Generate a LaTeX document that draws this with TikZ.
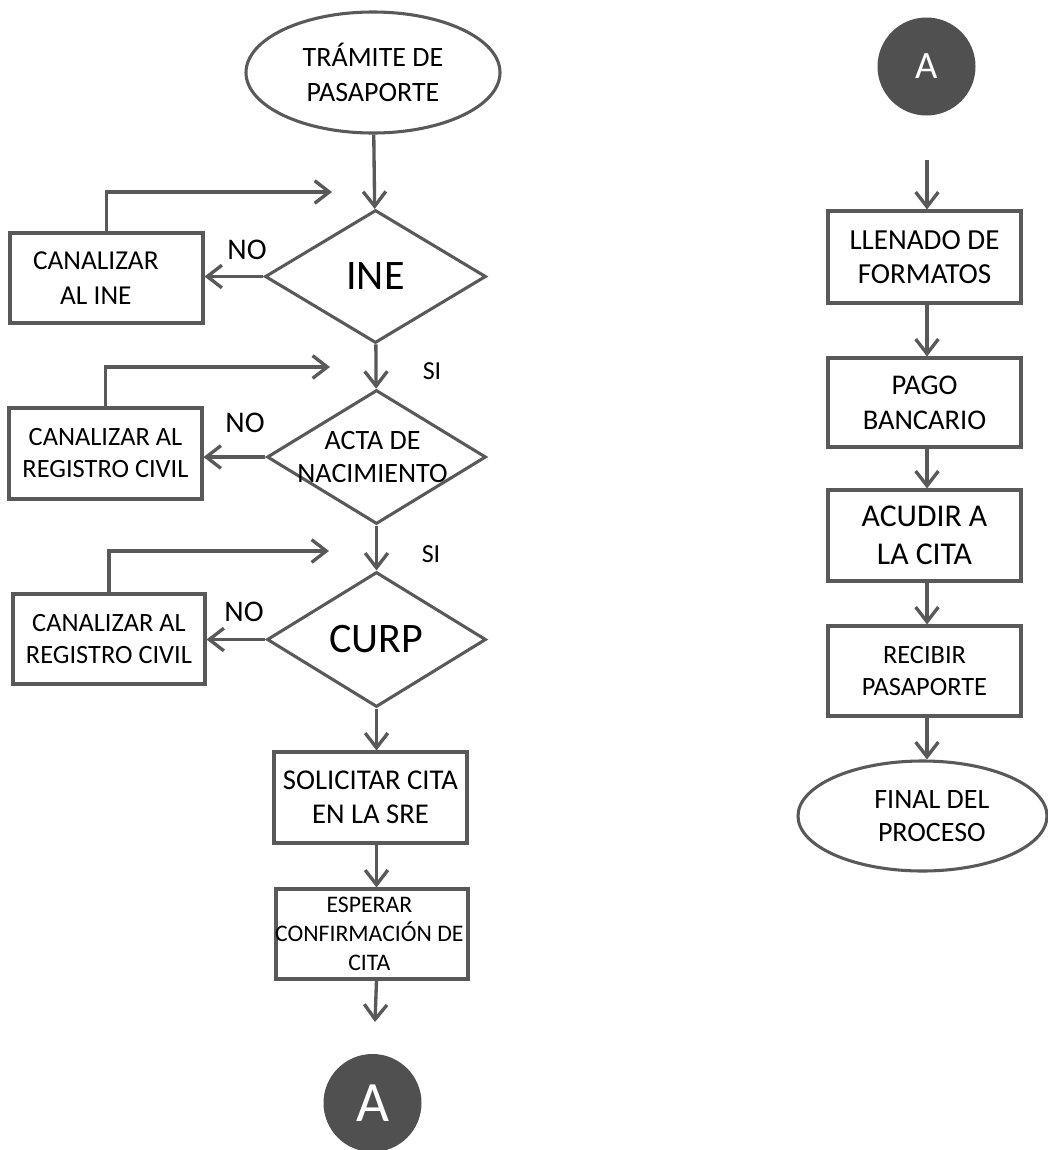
\documentclass[tikz,border=0pt]{standalone}
\usepackage{fontspec}
\setmainfont{Carlito}
\usetikzlibrary{shapes.geometric,arrows.meta}
\definecolor{ln}{HTML}{595959}
\definecolor{cfill}{HTML}{505050}
\tikzset{
  flow/.style={draw=ln,line width=2.5pt,-{Straight Barb[length=11pt,width=17pt,line width=2.5pt]}},
  box/.style={draw=ln,line width=2.3pt,rectangle,inner sep=0pt,align=center,fill=white},
  dia/.style={draw=ln,line width=2.3pt,diamond,inner sep=0pt,fill=white},
  term/.style={draw=ln,line width=2.3pt,ellipse,inner sep=0pt,align=center,fill=white},
  conn/.style={circle,fill=cfill,inner sep=0pt,text=white,minimum size=73.5pt},
  lbl/.style={inner sep=0pt,align=center}
}
\begin{document}
\begin{tikzpicture}[x=0.75pt,y=-0.75pt]
\useasboundingbox[fill=white] (0,0) rectangle (1047,1150);

% left column
\node[term,minimum width=190.5pt,minimum height=90.75pt,font=\fontsize{21}{26}\selectfont] (start) at (373,72.5) {TRÁMITE DE\\PASAPORTE};

\node[dia,minimum width=165.75pt,minimum height=99.75pt,label={[lbl,font=\fontsize{31.5}{36}\selectfont]center:INE}] (d1) at (375.5,276.5) {};
\node[box,minimum width=144.75pt,minimum height=67.5pt,label={[lbl,xshift=-8pt,font=\fontsize{20.5}{26}\selectfont]center:CANALIZAR\\AL INE}] (b1) at (106.5,278) {};

\node[dia,minimum width=164.25pt,minimum height=100.5pt,label={[lbl,xshift=-3pt,font=\fontsize{21}{24.5}\selectfont]center:ACTA DE\\NACIMIENTO}] (d2) at (376.5,457) {};
\node[box,minimum width=144.75pt,minimum height=68.25pt,font=\fontsize{19.8}{24}\selectfont] (b2) at (105.5,453.5) {CANALIZAR AL\\REGISTRO CIVIL};

\node[dia,minimum width=164.25pt,minimum height=101.25pt,label={[lbl,font=\fontsize{31.5}{36}\selectfont]center:CURP}] (d3) at (376.5,639.5) {};
\node[box,minimum width=144pt,minimum height=67.5pt,font=\fontsize{19.8}{24}\selectfont] (b3) at (109,639) {CANALIZAR AL\\REGISTRO CIVIL};

\node[box,minimum width=144.75pt,minimum height=68.25pt,font=\fontsize{21.5}{25.5}\selectfont] (sol) at (370.5,797.5) {SOLICITAR CITA\\EN LA SRE};
\node[box,minimum width=144pt,minimum height=67.5pt,label={[lbl,xshift=-2pt,font=\fontsize{17.8}{22}\selectfont]center:ESPERAR\\CONFIRMACIÓN DE\\CITA}] (esp) at (372,934) {};

\node[conn,font=\fontsize{42.75}{48}\selectfont] (a1) at (372.5,1103) {A};

% labels
\node[lbl,font=\fontsize{22.5}{26}\selectfont] (no1) at (247,250) {NO};
\node[lbl,font=\fontsize{22.5}{26}\selectfont] (no2) at (245,423) {NO};
\node[lbl,font=\fontsize{22.5}{26}\selectfont] (no3) at (244,612) {NO};
\node[lbl,font=\fontsize{19.5}{24}\selectfont] (si1) at (432,371) {SI};
\node[lbl,font=\fontsize{19.5}{24}\selectfont] (si2) at (431,554) {SI};

% free ends
\coordinate (f1) at (332,192);
\coordinate (f2) at (330,367);
\coordinate (f3) at (329,551);
\coordinate (e1) at (375,1022);

% connectors left
\draw[flow] (start) -- (d1);
\draw[flow] (d1) -- (d2);
\draw[flow] (d2) -- (d3);
\draw[flow] (d3.south) -- (d3.south |- sol.north);
\draw[flow] (sol.south -| d3.south) -- (esp.north -| d3.south);
\draw[flow] (esp.south -| d3.south) -- (e1);
\draw[flow] (d1.west) -- (d1.west -| b1.east);
\draw[flow] (d2.west) -- (d2.west -| b2.east);
\draw[flow] (d3.west) -- (d3.west -| b3.east);
\draw[flow] (b1.north) |- (f1);
\draw[flow] (b2.north) |- (f2);
\draw[flow] (b3.north) |- (f3);

% right column
\node[conn,font=\fontsize{29}{34}\selectfont] (a2) at (926.5,66.5) {A};
\coordinate (r1) at (927,160);
\node[box,minimum width=144.75pt,minimum height=69pt,font=\fontsize{21.8}{26}\selectfont] (llen) at (924.5,257) {LLENADO DE\\FORMATOS};
\node[box,minimum width=144.75pt,minimum height=66.75pt,font=\fontsize{21.4}{26}\selectfont] (pago) at (924.5,402.5) {PAGO\\BANCARIO};
\node[box,minimum width=144.75pt,minimum height=68.25pt,font=\fontsize{23.8}{28.5}\selectfont] (acud) at (924.5,535.5) {ACUDIR A\\LA CITA};
\node[box,minimum width=144.75pt,minimum height=67.5pt,font=\fontsize{19.8}{24}\selectfont] (rec) at (924.5,671) {RECIBIR\\PASAPORTE};
\node[term,minimum width=186.75pt,minimum height=82.5pt,label={[lbl,xshift=7pt,font=\fontsize{21}{25}\selectfont]center:FINAL DEL\\PROCESO}] (fin) at (922.5,816) {};

\draw[flow] (r1) -- (r1 |- llen.north);
\draw[flow] (llen.south -| r1) -- (pago.north -| r1);
\draw[flow] (pago.south -| r1) -- (acud.north -| r1);
\draw[flow] (acud.south -| r1) -- (rec.north -| r1);
\draw[flow] (rec.south -| r1) -- (fin.north -| r1);
\end{tikzpicture}
\end{document}
